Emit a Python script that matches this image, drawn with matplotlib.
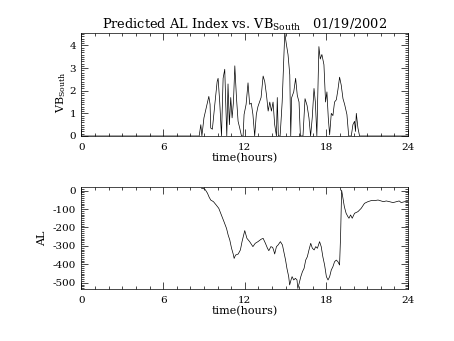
"""Predicted AL index vs. southward IMF driver, 19 Jan 2002 (two stacked panels)."""
import matplotlib
matplotlib.use("Agg")
import matplotlib.pyplot as plt
from matplotlib.ticker import MultipleLocator, AutoMinorLocator

plt.rcParams["font.family"] = "DejaVu Serif"
plt.rcParams["mathtext.fontset"] = "dejavuserif"
plt.rcParams["axes.unicode_minus"] = False

# VB_south (mV/m) vs. UT hours
vb_t = [0, 8.65, 8.77, 8.85, 9.0, 9.36, 9.45, 9.5, 9.62, 9.8, 9.97, 10.04,
        10.16, 10.29, 10.41, 10.53, 10.6, 10.68, 10.77, 10.87, 10.97, 11.07,
        11.17, 11.27, 11.39, 11.51, 11.63, 11.76, 11.88, 11.95, 12.1, 12.24,
        12.36, 12.48, 12.6, 12.73, 12.85, 12.97, 13.2, 13.35, 13.47, 13.6,
        13.72, 13.84, 13.96, 14.08, 14.2, 14.33, 14.39, 14.47, 14.6, 14.75,
        14.94, 15.06, 15.18, 15.31, 15.38, 15.45, 15.6, 15.74, 15.86, 15.99,
        16.09, 16.28, 16.43, 16.58, 16.72, 16.84, 16.96, 17.09, 17.19, 17.3,
        17.45, 17.55, 17.67, 17.82, 17.94, 18.04, 18.14, 18.24, 18.36, 18.48,
        18.6, 18.73, 18.85, 18.97, 19.09, 19.22, 19.34, 19.51, 19.64, 19.83,
        19.95, 20.07, 20.14, 20.2, 20.32, 20.44, 24]
vb_v = [0, 0, 0.5, 0, 0.8, 1.75, 1.4, 0.35, 0.3, 1.4, 2.4, 2.55,
        1.5, 0, 2.55, 2.95, 1.5, 0, 2.3, 0.5, 1.7, 0.8,
        1.5, 3.1, 1.7, 0.65, 0.35, 0, 0, 0.95, 1.4, 2.35,
        1.4, 1.45, 0.95, 0, 0.95, 1.3, 1.7, 2.65, 2.4, 1.8,
        1.1, 1.5, 1.1, 1.5, 0.5, 0, 1.7, 0, 0, 1.5,
        4.55, 4.05, 3.6, 2.7, 0, 1.7, 1.95, 2.55, 1.8, 1.5,
        0, 0, 1.65, 1.35, 0.8, 0, 0.8, 2.1, 1.5, 0,
        3.95, 3.4, 3.6, 3.15, 1.5, 1.95, 0.8, 0.05, 1.0, 0.9,
        1.5, 1.6, 2.05, 2.6, 2.25, 1.65, 1.4, 0.95, 0, 0,
        0.5, 0.65, 0.2, 1.0, 0.35, 0, 0]

# predicted AL (nT) vs. UT hours
al_t = [8.82, 8.95, 9.1, 9.26, 9.38, 9.5, 9.7, 9.9, 10.09, 10.28, 10.47,
        10.66, 10.78, 10.9, 11.03, 11.15, 11.22, 11.32, 11.52, 11.68, 11.8,
        11.95, 12.0, 12.16, 12.36, 12.6, 12.77, 12.97, 13.2, 13.35, 13.52,
        13.67, 13.77, 13.92, 14.05, 14.12, 14.2, 14.33, 14.45, 14.62, 14.77,
        14.87, 15.0, 15.1, 15.23, 15.3, 15.4, 15.48, 15.6, 15.72, 15.84, 15.9,
        16.0, 16.12, 16.24, 16.36, 16.48, 16.6, 16.72, 16.85, 16.97, 17.1,
        17.22, 17.34, 17.5, 17.62, 17.74, 17.87, 18.0, 18.12, 18.24, 18.36,
        18.48, 18.6, 18.73, 18.85, 18.97, 19.05, 19.12, 19.2, 19.32, 19.45,
        19.58, 19.66, 19.78, 19.9, 20.07, 20.32, 20.56, 20.8, 21.05, 21.3,
        21.55, 21.8, 21.93, 22.2, 22.4, 22.64, 22.9, 23.15, 23.35, 23.5,
        23.75, 24.0]
al_v = [13, 12, 5, -14, -35, -51, -60, -78, -96, -132, -168,
        -205, -241, -268, -313, -344, -368, -350, -344, -322, -277,
        -232, -217, -259, -277, -304, -286, -277, -264, -259, -286,
        -313, -326, -304, -308, -322, -344, -304, -295, -277, -295,
        -331, -377, -422, -467, -512, -485, -467, -485, -476, -485, -531,
        -503, -467, -440, -422, -377, -359, -322, -286, -313, -322,
        -304, -313, -277, -304, -359, -404, -467, -485, -467, -431,
        -413, -386, -377, -386, -404, -230, 3, -33, -87, -123,
        -141, -150, -132, -150, -123, -114, -96, -69, -60, -54,
        -54, -51, -54, -60, -56, -60, -65, -60, -56, -65,
        -60, -60]

hour_ticks = [0, 6, 12, 18, 24]


def style_axis(ax, ymajor, yminor_n):
    ax.set_xlim(0, 24)
    ax.set_xticks(hour_ticks)
    ax.xaxis.set_minor_locator(MultipleLocator(1))
    ax.yaxis.set_major_locator(MultipleLocator(ymajor))
    ax.yaxis.set_minor_locator(AutoMinorLocator(yminor_n))
    ax.tick_params(which="both", direction="in", top=True, right=True,
                   width=0.5, labelsize=7.5)
    ax.tick_params(axis="y", pad=4)
    ax.tick_params(axis="x", pad=5)
    ax.tick_params(which="major", length=5)
    ax.tick_params(which="minor", length=2.5)
    for s in ax.spines.values():
        s.set_linewidth(0.5)
    ax.set_xlabel("time(hours)", fontsize=8, labelpad=1)


fig = plt.figure(figsize=(4.54, 3.41), dpi=100)

ax1 = fig.add_axes([0.1795, 0.6012, 0.7192, 0.3020])
ax1.plot(vb_t, vb_v, color="black", lw=0.5)
ax1.set_ylim(0, 4.55)
style_axis(ax1, 1, 10)
ax1.set_ylabel(r"VB$_{\mathrm{South}}$", fontsize=8)
ax1.yaxis.set_label_coords(-0.04, 0.42)
ax1.set_title(r"Predicted AL Index vs. VB$_{\mathrm{South}}$   01/19/2002",
              fontsize=9.3, pad=3)

ax2 = fig.add_axes([0.1795, 0.1525, 0.7192, 0.2982])
ax2.plot(al_t, al_v, color="black", lw=0.5)
ax2.set_ylim(-534, 18)
style_axis(ax2, 100, 10)
ax2.set_ylabel("AL", fontsize=8)
ax2.yaxis.set_label_coords(-0.105, 0.5)

fig.savefig("out.png", dpi=100)
